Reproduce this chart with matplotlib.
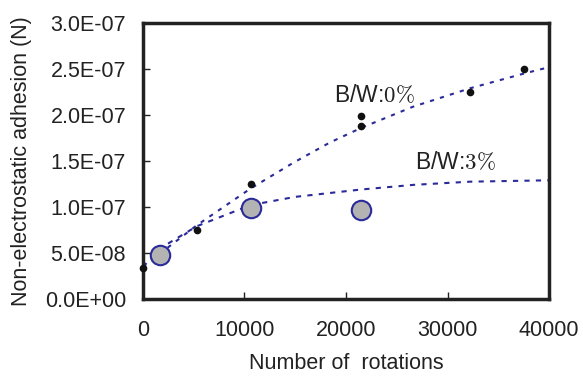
import matplotlib.pyplot as plt

# B/W 0% measurements (black dots)
rot_0 = [0, 5300, 10600, 21500, 21500, 32200, 37500]
adh_0 = [3.4e-8, 7.5e-8, 1.25e-7, 1.99e-7, 1.88e-7, 2.25e-7, 2.50e-7]

# B/W 3% measurements (grey circles)
rot_3 = [1700, 10600, 21500]
adh_3 = [4.8e-8, 9.9e-8, 9.7e-8]

# trend lines
trend_x0 = [0, 5300, 10600, 14800, 18400, 21500, 26600, 32200, 37500, 40000]
trend_y0 = [3.5e-8, 8.0e-8, 1.20e-7, 1.48e-7, 1.70e-7, 1.86e-7, 2.09e-7, 2.29e-7, 2.45e-7, 2.52e-7]
trend_x3 = [0, 2000, 5300, 10600, 15000, 21500, 26600, 32200, 40000]
trend_y3 = [3.5e-8, 5.7e-8, 7.9e-8, 1.02e-7, 1.11e-7, 1.19e-7, 1.24e-7, 1.275e-7, 1.29e-7]

xticks = [0, 10000, 20000, 30000, 40000]
yticks = [0, 5e-8, 1e-7, 1.5e-7, 2e-7, 2.5e-7, 3e-7]
ytick_labels = ["0.0E+00", "5.0E-08", "1.0E-07", "1.5E-07", "2.0E-07", "2.5E-07", "3.0E-07"]

plt.rcParams['font.family'] = ['Liberation Sans', 'DejaVu Sans']
navy = '#2a2a9a'
ink = '#222222'

fig = plt.figure(figsize=(5.83, 3.77), dpi=100)
ax = fig.add_axes([0.245, 0.207, 0.697, 0.732])

ax.plot(trend_x0, trend_y0, color=navy, lw=1.5, ls=(0, (2, 3)), clip_on=False)
ax.plot(trend_x3, trend_y3, color=navy, lw=1.5, ls=(0, (2.5, 3)), clip_on=False)

ax.plot(rot_3, adh_3, 'o', ms=14, mfc='#b3b3b3', mec=navy, mew=1.5, clip_on=False, zorder=3)
ax.plot(rot_0, adh_0, 'o', ms=4.5, color='#111111', clip_on=False, zorder=4)

# labels placed in figure pixels (origin bottom-left)
ax.text(334, 377 - 96, 'B/W:$0\\%$', transform=None, fontsize=16.5, va='center', ha='left',
        math_fontfamily='cm', color=ink)
ax.text(415, 377 - 163, 'B/W:$3\\%$', transform=None, fontsize=16.5, va='center', ha='left',
        math_fontfamily='cm', color=ink)

ax.set_xlim(0, 40000)
ax.set_ylim(0, 3e-7)
ax.set_xticks(xticks)
ax.set_xticklabels([str(v) for v in xticks])
ax.set_yticks(yticks)
ax.set_yticklabels(ytick_labels)
ax.tick_params(direction='in', length=5, width=1, labelsize=15.5, colors=ink, pad=12)
ax.tick_params(axis='x', pad=15)
for s in ax.spines.values():
    s.set_linewidth(2.5)
    s.set_color(ink)

ax.set_xlabel('Number of  rotations', fontsize=15.5, color=ink, labelpad=9)
ax.set_ylabel('Non-electrostatic adhesion (N)', fontsize=15.5, color=ink, labelpad=9)

fig.savefig('out.png', dpi=100)
